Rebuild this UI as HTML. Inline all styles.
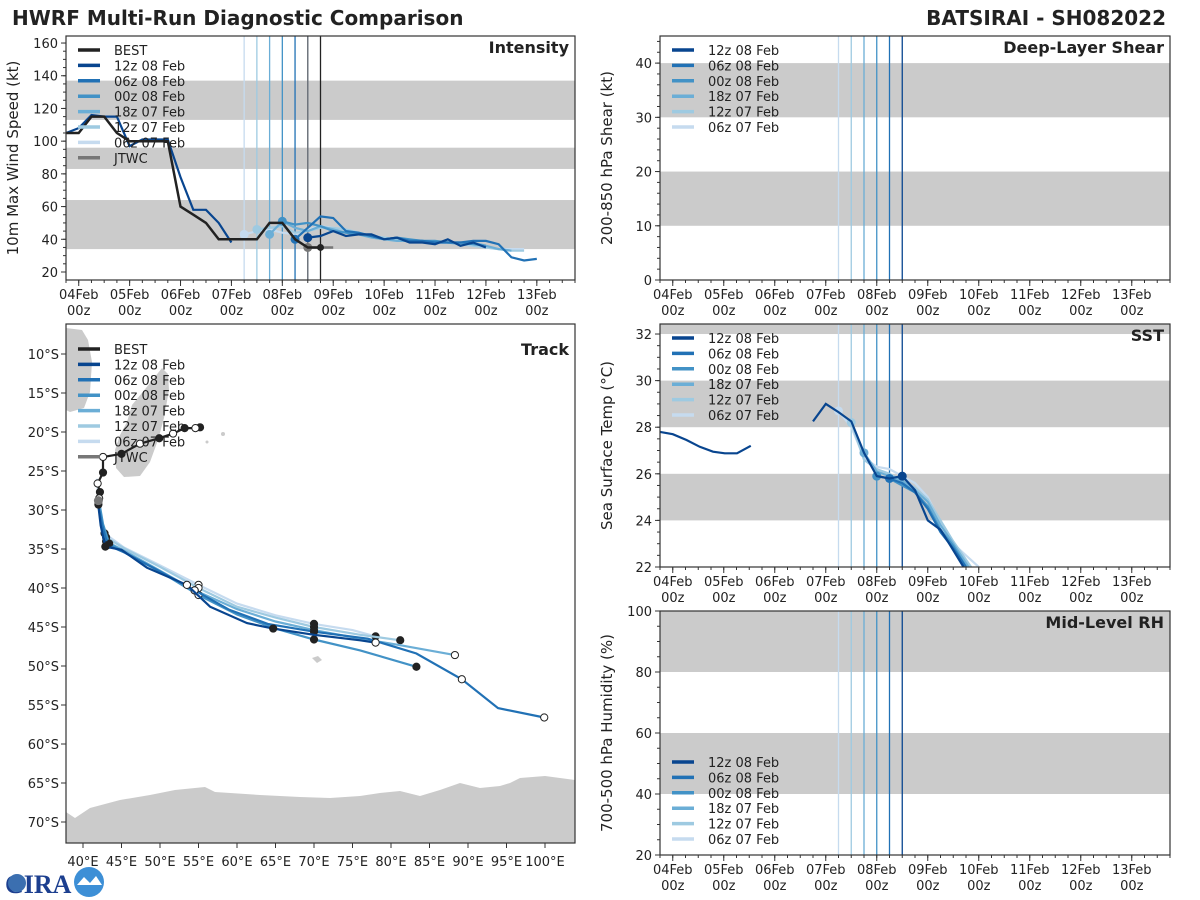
<!DOCTYPE html>
<html><head><meta charset="utf-8"><style>
body{margin:0;background:#fff;}
svg{display:block;font-family:"DejaVu Sans","Liberation Sans",sans-serif;}
</style></head><body>
<svg id="chart" width="1200" height="900" viewBox="0 0 1200 900">
<text x="12" y="25" font-size="20" font-weight="bold" fill="#222">HWRF Multi-Run Diagnostic Comparison</text>
<text x="1166" y="25" font-size="20" font-weight="bold" fill="#222" text-anchor="end">BATSIRAI - SH082022</text>
<g>
<text x="5" y="893" font-size="26" font-weight="bold" fill="#1c3f8f" font-family="Liberation Serif, serif">CIRA</text>
<circle cx="17" cy="883" r="9" fill="#3b6fb0"/>
<circle cx="89" cy="882" r="15" fill="#3d8fd6"/>
<path d="M77 885 L84 877 L90 883 L96 876 L102 885 Z" fill="#fff"/>
</g>
</svg>
<script>
// ---------- DATA ----------
const runNames=["12z 08 Feb","06z 08 Feb","00z 08 Feb","18z 07 Feb","12z 07 Feb","06z 07 Feb"];
const runColors=["#08458f","#2171b5","#4292c6","#6baed6","#9ecae1","#c6dbef"];
const runDays=[4.5,4.25,4.0,3.75,3.5,3.25];
const dayLabels=["04Feb","05Feb","06Feb","07Feb","08Feb","09Feb","10Feb","11Feb","12Feb","13Feb"];
// intensity (kt) ; times in days since 04Feb 00z
const bestT=[-0.25,0,0.25,0.5,0.75,1,1.25,1.5,1.75,2,2.25,2.5,2.75,3,3.25,3.5,3.75,4,4.25,4.5,4.75];
const bestV=[105,105,115,115,105,100,100,100,100,60,55,50,40,40,40,40,50,50,40,35,35];
const histT=[-0.25,0,0.25,0.5,0.75,1,1.25,1.5,1.75,2,2.25,2.5,2.75,3];
const histV=[105,108,116,115,115,97,101,101,101,78,58,58,50,38];
const jtwcT=[4.5,4.75,5.0];
const jtwcV=[35,35,35];
const intT=[
 [4.5,4.75,5,5.25,5.5,5.75,6,6.25,6.5,6.75,7,7.25,7.5,7.75,8],
 [4.25,4.5,4.75,5,5.25,5.5,5.75,6,6.25,6.5,6.75,7,7.25,7.5,7.75,8,8.25,8.5,8.75,9],
 [4,4.25,4.5,4.75,5,5.25,5.5,5.75,6,6.25,6.5,6.75,7,7.25,7.5,7.75,8],
 [3.75,4,4.25,4.5,4.75,5,5.25,5.5,5.75,6,6.25,6.5,6.75,7,7.25,7.5,7.75,8,8.25,8.5],
 [3.5,3.75,4,4.25,4.5,4.75,5,5.25,5.5,5.75,6,6.25,6.5,6.75,7,7.25,7.5,7.75,8,8.25,8.5,8.75],
 [3.25,3.5,3.75,4,4.25,4.5,4.75,5,5.25,5.5,5.75,6,6.25,6.5,6.75,7,7.25,7.5,7.75,8,8.25,8.5,8.75]];
const intV=[
 [41,42,45,42,43,43,40,41,38,38,37,40,36,38,35],
 [40,47,54,53,45,44,42,40,41,39,39,38,38,38,39,39,37,29,27,28],
 [51,49,50,48,45,44,43,42,40,41,40,39,39,38,38,37,36],
 [43,51,47,45,48,46,44,43,41,40,39,39,39,38,38,37,38,36,34,33],
 [46,47,48,44,45,47,47,46,44,42,41,40,39,39,38,38,37,36,35,34,33,33],
 [43,45,46,44,43,46,48,47,46,44,42,41,40,39,39,38,38,37,36,35,34,34,34]];
// SST
const sstHistT=[-0.25,0,0.27,0.53,0.79,1.02,1.26,1.53];
const sstHistV=[27.8,27.7,27.45,27.16,26.95,26.88,26.88,27.2];
const sstT=[
 [2.75,3.0,3.25,3.5,3.75,4.0,4.25,4.5,4.75,5.0,5.25,5.45,5.7],
 [4.25,4.5,4.75,5.0,5.25,5.5,5.75],
 [4.0,4.25,4.5,4.75,5.0,5.25,5.5,5.75],
 [3.75,4.0,4.25,4.5,4.75,5.0,5.25,5.5,5.8],
 [3.5,3.75,4.0,4.25,4.5,4.75,5.0,5.25,5.5,5.85],
 [3.25,3.5,3.75,4.0,4.25,4.5,4.75,5.0,5.25,5.5,5.75,6.0]];
const sstV=[
 [28.25,29.0,28.65,28.25,26.9,25.9,25.8,25.9,25.3,24.0,23.6,22.9,22.0],
 [25.8,25.6,25.2,24.5,23.5,22.8,22.0],
 [25.9,25.8,25.5,25.2,24.6,23.6,22.9,22.0],
 [26.9,26.1,25.9,25.7,25.3,24.8,23.8,23.0,22.0],
 [28.2,26.6,26.2,26.0,25.7,25.4,24.9,24.0,23.1,22.0],
 [28.7,28.0,26.7,26.3,26.2,25.9,25.6,25.0,23.9,23.0,22.5,22.0]];
// Track (lon E, lat S)
const bestLon=[55.2,54.6,53.2,51.7,49.9,47.4,45.0,42.6,42.6,41.9,42.2,42.1,42.0];
const bestLat=[19.4,19.5,19.5,20.2,20.8,21.5,22.8,23.2,25.2,26.6,27.7,28.5,29.3];
const trkLon=[
 [42.0,42.3,42.9,45.0,48.3,53.5,56.5,61.3,64.7,70,76.0,78.0],
 [42.0,42.5,43.2,45.5,49.5,54.5,59,64,70,77,83.3,89.2,93.9,99.9],
 [42.1,42.6,43.4,46,50,55,60,65,70,76,83.3],
 [42.0,42.3,43.0,45.5,49.5,54.5,60,65,70,76,81,88.3],
 [41.9,42.2,43.0,45.5,50,55,60,65,70,76,81.2],
 [41.8,42.1,42.8,45.3,49.8,55,60,65,70,75,78]];
const trkLat=[
 [29.5,32.0,34.7,35.1,37.4,39.6,42.4,44.5,45.2,46.0,46.7,47.0],
 [29.5,32.0,34.5,35.5,37.6,40.3,42.8,44.6,45.6,46.5,48.4,51.7,55.4,56.6],
 [29.0,31.8,34.3,35.8,37.9,40.9,43.4,45.2,46.6,48.0,50.1],
 [28.5,31.5,34.0,35.3,37.5,40.3,42.7,44.3,45.4,46.5,47.3,48.6],
 [27.5,30.5,33.5,35.0,37.3,40.0,42.4,43.8,45.0,46.0,46.7],
 [26.0,29.5,33.0,34.8,37.0,39.6,42.0,43.5,44.6,45.4,46.2]];
// ---------- HELPERS ----------
const svg=document.getElementById('chart');
const NS='http://www.w3.org/2000/svg';
function mk(tag,attrs,parent){const e=document.createElementNS(NS,tag);for(const k in attrs)e.setAttribute(k,attrs[k]);(parent||svg).appendChild(e);return e;}
function txt(x,y,s,size,attrs,parent){const e=mk('text',Object.assign({x:x,y:y,'font-size':size,fill:'#222'},attrs||{}),parent);e.textContent=s;return e;}
function lin(d0,d1,r0,r1){return v=>r0+(v-d0)/(d1-d0)*(r1-r0);}
function pathD(xs,ys,X,Y){let d='';for(let i=0;i<xs.length;i++){d+=(i?'L':'M')+X(xs[i]).toFixed(1)+' '+Y(ys[i]).toFixed(1);}return d;}

function panel(name,x0,y0,w,h,xd,yd,yTicks,yMinor,ylab,title,bands){
  const g=mk('g',{});
  
  
  const X=lin(xd[0],xd[1],x0,x0+w),Y=lin(yd[0],yd[1],y0+h,y0);
  const cid='clip-'+name;
  const cp=mk('clipPath',{id:cid},g);mk('rect',{x:x0,y:y0,width:w,height:h},cp);
  const inner=mk('g',{'clip-path':'url(#'+cid+')'},g);
  bands.forEach(b=>{const r=mk('rect',{x:x0,y:Y(b[1]),width:w,height:Y(b[0])-Y(b[1]),fill:'#cbcbcb'},inner);
    
    });
  for(let v=yd[0]-(yd[0]%yMinor);v<=yd[1];v+=yMinor){if(v<yd[0])continue;mk('line',{x1:x0,x2:x0-3,y1:Y(v),y2:Y(v),stroke:'#333'},g);}
  yTicks.forEach(v=>{mk('line',{x1:x0,x2:x0-5,y1:Y(v),y2:Y(v),stroke:'#333'},g);
    const t=txt(x0-8,Y(v)+5,String(v),13,{'text-anchor':'end'},g);
    
    });
  for(let d=-0.25;d<=9.75;d+=0.25){mk('line',{x1:X(d),x2:X(d),y1:y0+h,y2:y0+h+3,stroke:'#333'},g);}
  dayLabels.forEach((s,i)=>{mk('line',{x1:X(i),x2:X(i),y1:y0+h,y2:y0+h+6,stroke:'#333'},g);
    const t=txt(X(i),y0+h+19,s,13,{'text-anchor':'middle'},g);
    
    
    txt(X(i),y0+h+35,'00z',13,{'text-anchor':'middle'},g);});
  const yl=txt(0,0,ylab,15,{'text-anchor':'middle',transform:'translate('+(x0-48)+','+(y0+h/2)+') rotate(-90)'},g);
  
  
  const tt=txt(x0+w-6,y0+17,title,16,{'text-anchor':'end','font-weight':'bold'},g);
  
  
  return {g,inner,X,Y,x0,y0,w,h};
}
function frame(p){mk('rect',{x:p.x0,y:p.y0,width:p.w,height:p.h,fill:'none',stroke:'#333','stroke-width':1.2},p.g);}
function vlines(p,withBest){
  runDays.forEach((d,i)=>{const l=mk('line',{x1:p.X(d),x2:p.X(d),y1:p.y0,y2:p.y0+p.h,stroke:runColors[i],'stroke-width':1.3},p.inner);
    
    });
  if(withBest){mk('line',{x1:p.X(4.5),x2:p.X(4.5),y1:p.y0,y2:p.y0+p.h,stroke:'#777','stroke-width':1.3},p.inner);
    mk('line',{x1:p.X(4.75),x2:p.X(4.75),y1:p.y0,y2:p.y0+p.h,stroke:'#222','stroke-width':1.3},p.inner);}
}
function legend(p,x,y,entries){
  const g=mk('g',{},p.g);
  
  
  entries.forEach((e,i)=>{const yy=y+i*15.4;
    const l=mk('line',{x1:x,x2:x+22,y1:yy,y2:yy,stroke:e[1],'stroke-width':3.5},g);
    
    
    const t=txt(x+36,yy+5,e[0],13,{},g);
    
    });
}
const runEntries=runNames.map((n,i)=>[n,runColors[i]]);

// ---------- INTENSITY ----------
const pI=panel('intensity',66,36,509,244,[-0.25,9.75],[15.1,164.3],[20,40,60,80,100,120,140,160],5,'10m Max Wind Speed (kt)','Intensity',[[34,64],[83,96],[113,137]]);
vlines(pI,true);
for(let i=5;i>=0;i--){const p=mk('path',{d:pathD(intT[i],intV[i],pI.X,pI.Y),fill:'none',stroke:runColors[i],'stroke-width':2.2},pI.inner);
  
  
  mk('circle',{cx:pI.X(intT[i][0]),cy:pI.Y(intV[i][0]),r:4.5,fill:runColors[i]},pI.inner);}
{const p=mk('path',{d:pathD(histT,histV,pI.X,pI.Y),fill:'none',stroke:runColors[0],'stroke-width':2.2},pI.inner);

}
{const p=mk('path',{d:pathD(jtwcT,jtwcV,pI.X,pI.Y),fill:'none',stroke:'#777','stroke-width':2.5},pI.inner);


mk('circle',{cx:pI.X(jtwcT[0]),cy:pI.Y(jtwcV[0]),r:4.5,fill:'#777'},pI.inner);}
{const p=mk('path',{d:pathD(bestT,bestV,pI.X,pI.Y),fill:'none',stroke:'#222','stroke-width':2.5},pI.inner);


mk('circle',{cx:pI.X(bestT[bestT.length-1]),cy:pI.Y(bestV[bestV.length-1]),r:3.5,fill:'#222'},pI.inner);}
frame(pI);
legend(pI,78,50,[['BEST','#222']].concat(runEntries,[['JTWC','#777']]));

// ---------- SHEAR ----------
const pS=panel('shear',660,36,510,244,[-0.25,9.75],[0,45],[0,10,20,30,40],2,'200-850 hPa Shear (kt)','Deep-Layer Shear',[[10,20],[30,40]]);
vlines(pS,false);frame(pS);
legend(pS,672,50,runEntries);

// ---------- SST ----------
const pT=panel('sst',660,324,510,243,[-0.25,9.75],[22,32.43],[22,24,26,28,30,32],0.5,'Sea Surface Temp (°C)','SST',[[24,26],[28,30],[32,34]]);
vlines(pT,false);
for(let i=5;i>=0;i--){const p=mk('path',{d:pathD(sstT[i],sstV[i],pT.X,pT.Y),fill:'none',stroke:runColors[i],'stroke-width':2.2},pT.inner);
  
  
  const k=sstT[i].indexOf(runDays[i]);
  if(k>=0)mk('circle',{cx:pT.X(sstT[i][k]),cy:pT.Y(sstV[i][k]),r:4.5,fill:runColors[i]},pT.inner);}
{const p=mk('path',{d:pathD(sstHistT,sstHistV,pT.X,pT.Y),fill:'none',stroke:runColors[0],'stroke-width':2.2},pT.inner);

}
frame(pT);
legend(pT,672,338,runEntries);

// ---------- RH ----------
const pR=panel('rh',660,611,510,244,[-0.25,9.75],[20,100],[20,40,60,80,100],5,'700-500 hPa Humidity (%)','Mid-Level RH',[[40,60],[80,100]]);
vlines(pR,false);frame(pR);
legend(pR,672,762,runEntries);

// ---------- TRACK ----------
(function(){
  const x0=66,y0=324,w=509,h=519;
  const g=mk('g',{});
  
  
  const X=lin(40,100,83,545),Y=lin(10,70,354,822);
  const cp=mk('clipPath',{id:'clip-track'},g);mk('rect',{x:x0,y:y0,width:w,height:h},cp);
  const inner=mk('g',{'clip-path':'url(#clip-track)'},g);
  const land=[
   'M66 328 L82 330 L88 340 L92 362 L90 392 L84 408 L70 412 L66 410 Z',
   'M162 368 L168 374 L169 390 L164 418 L158 440 L150 462 L140 476 L124 477 L116 468 L115 450 L120 435 L127 422 L132 405 L146 388 Z',
   'M312 658 L318 656 L322 660 L317 663 Z',
   'M66 843 L66 812 L75 818 L90 808 L120 800 L150 795 L175 790 L205 787 L215 792 L260 795 L300 797 L330 798 L360 796 L380 793 L400 791 L420 796 L440 790 L460 783 L480 788 L500 786 L510 783 L520 778 L545 776 L575 780 L575 843 Z'];
  land.forEach(d=>{const p=mk('path',{d:d,fill:'#cbcbcb'},inner);
    
    });
  mk('circle',{cx:223,cy:434,r:2,fill:'#cbcbcb'},inner);
  mk('circle',{cx:207,cy:442,r:1.5,fill:'#cbcbcb'},inner);
  for(let i=5;i>=0;i--){const p=mk('path',{d:pathD(trkLon[i],trkLat[i],X,Y),fill:'none',stroke:runColors[i],'stroke-width':2.2},inner);
    
    
    trkLon[i].forEach((lo,k)=>{if(k%3===2||k===trkLon[i].length-1){mk('circle',{cx:X(lo),cy:Y(trkLat[i][k]),r:3.6,fill:(k%2?'#fff':'#222'),stroke:'#222','stroke-width':1}, inner);}});}
  const bp=mk('path',{d:pathD(bestLon,bestLat,X,Y),fill:'none',stroke:'#222','stroke-width':2.2},inner);
  
  
  bestLon.forEach((lo,k)=>{mk('circle',{cx:X(lo),cy:Y(bestLat[k]),r:3.6,fill:(k%2?'#fff':'#222'),stroke:'#222','stroke-width':1},inner);});
  mk('circle',{cx:X(42.0),cy:Y(28.8),r:4.5,fill:'#777'},inner);
  mk('rect',{x:x0,y:y0,width:w,height:h,fill:'none',stroke:'#333','stroke-width':1.2},g);
  for(let lo=40;lo<=100;lo+=5){mk('line',{x1:X(lo),x2:X(lo),y1:y0+h,y2:y0+h+5,stroke:'#333'},g);
    const t=txt(X(lo),y0+h+23,lo+'°E',13,{'text-anchor':'middle'},g);
    
    }
  for(let la=10;la<=70;la+=5){mk('line',{x1:x0,x2:x0-5,y1:Y(la),y2:Y(la),stroke:'#333'},g);
    const t=txt(x0-7,Y(la)+5,la+'°S',13,{'text-anchor':'end'},g);
    
    }
  const tt=txt(x0+w-6,y0+31,'Track',16,{'text-anchor':'end','font-weight':'bold'},g);
  
  
  legend({g:g},78,349,[['BEST','#222']].concat(runEntries,[['JTWC','#777']]));
})();
</script>
</body></html>
